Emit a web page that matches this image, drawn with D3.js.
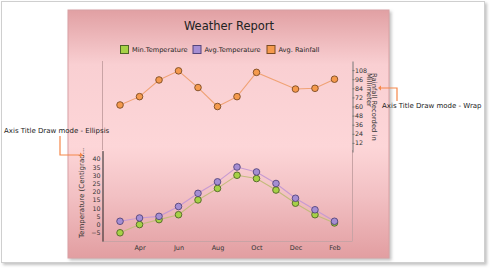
<!DOCTYPE html>
<html>
<head>
<meta charset="utf-8">
<script src="https://cdn.jsdelivr.net/npm/d3@7"></script>
<style>
  body { margin: 0; background: #fff; }
  svg text { font-family: "DejaVu Sans", Verdana, sans-serif; }
</style>
</head>
<body>
<svg id="chart" width="490" height="271"></svg>
<script>
// chart data
const months = ["Mar", "Apr", "May", "Jun", "Jul", "Aug", "Sep", "Oct", "Nov", "Dec", "Jan", "Feb"];
const minTemp = [-5, 0, 3, 6, 15, 22, 30, 28, 21, 13, 6, 1];
const avgTemp = [2, 4, 5, 11, 19, 26, 35, 32, 25, 16, 9, 2];
const avgRain = [62, 73, 95, 107, 85, 60, 73, 105, null, 83, 84, 96];
const tempTicks = [-5, 0, 5, 10, 15, 20, 25, 30, 35, 40];
const rainTicks = [12, 24, 36, 48, 60, 72, 84, 96, 108];
const xLabels = ["Apr", "Jun", "Aug", "Oct", "Dec", "Feb"];

const svg = d3.select("#chart");
const defs = svg.append("defs");

const grad = defs.append("linearGradient").attr("id", "bg").attr("x1", 0).attr("y1", 0).attr("x2", 0).attr("y2", 1);
[["0%", "#e1a0a3"], ["22%", "#f9cfd2"], ["55%", "#fdd6d8"], ["75%", "#f2c0c3"], ["100%", "#e29ea1"]]
  .forEach(s => grad.append("stop").attr("offset", s[0]).attr("stop-color", s[1]));

const shadow = defs.append("filter").attr("id", "sh").attr("x", "-5%").attr("y", "-5%").attr("width", "115%").attr("height", "115%");
shadow.append("feDropShadow").attr("dx", 2).attr("dy", 2).attr("stdDeviation", 1.5).attr("flood-color", "#999").attr("flood-opacity", 0.6);

// outer frame
svg.append("rect").attr("x", 1.5).attr("y", 1.5).attr("width", 483).attr("height", 261)
  .attr("fill", "#fff").attr("stroke", "#cfcfcf").attr("filter", "url(#sh)");

// chart panel
svg.append("rect").attr("x", 68).attr("y", 10).attr("width", 321).attr("height", 248)
  .attr("fill", "url(#bg)").attr("stroke", "#d8a0a3").attr("filter", "url(#sh)");

svg.append("text").attr("x", 229).attr("y", 30).attr("text-anchor", "middle")
  .attr("font-size", 11.5).attr("fill", "#222").text("Weather Report");

// legend
const legend = [
  { name: "Min.Temperature", fill: "#a6d146", stroke: "#4f6426", x: 120 },
  { name: "Avg.Temperature", fill: "#a58ed3", stroke: "#54457a", x: 192.5 },
  { name: "Avg. Rainfall", fill: "#f59a4d", stroke: "#7a4a22", x: 266.5 }
];
const lg = svg.append("g").selectAll("g").data(legend).enter().append("g");
lg.append("rect").attr("x", d => d.x + 0.5).attr("y", 45.5).attr("width", 8).attr("height", 8)
  .attr("fill", d => d.fill).attr("stroke", d => d.stroke);
lg.append("text").attr("x", d => d.x + 12).attr("y", 52).attr("font-size", 6.6).attr("fill", "#222").text(d => d.name);

// scales
const left = 102, right = 352.5;
const x = d3.scalePoint().domain(months).range([left, right]).padding(0.925);
const yRain = d3.scaleLinear().domain([0, 120]).range([152, 61]);
const yTemp = d3.scaleLinear().domain([-10, 45]).range([241, 150.6]);

// plot borders
const border = svg.append("g").attr("stroke", "#c9a3a5").attr("fill", "none");
border.append("line").attr("x1", left + 0.5).attr("x2", left + 0.5).attr("y1", 61).attr("y2", 150);
border.append("line").attr("x1", right).attr("x2", right).attr("y1", 150).attr("y2", 241);
border.append("line").attr("x1", left).attr("x2", right).attr("y1", 241.5).attr("y2", 241.5);

// temperature axis (left)
const axL = svg.append("g").attr("transform", `translate(${left + 0.5},0)`)
  .call(d3.axisLeft(yTemp).tickValues(tempTicks).tickSize(0).tickPadding(2));
axL.select(".domain").attr("stroke", "#222");
axL.selectAll("text").attr("font-size", 6.3).attr("fill", "#333").attr("font-family", "DejaVu Sans");

// rainfall axis (right)
const axR = svg.append("g").attr("transform", `translate(${right},0)`)
  .call(d3.axisRight(yRain).tickValues(rainTicks).tickSize(2).tickPadding(0.5).tickSizeOuter(0));
axR.select(".domain").attr("stroke", "#777");
axR.selectAll(".tick line").attr("stroke", "#777");
axR.selectAll("text").attr("font-size", 6.3).attr("fill", "#333").attr("font-family", "DejaVu Sans");

// x axis labels
const axB = svg.append("g").attr("transform", "translate(0,241)")
  .call(d3.axisBottom(x).tickValues(xLabels).tickSize(0).tickPadding(4));
axB.select(".domain").remove();
axB.selectAll("text").attr("font-size", 6.5).attr("fill", "#333").attr("font-family", "DejaVu Sans");

// axis titles
svg.append("text").attr("transform", "translate(84,238) rotate(-90)")
  .attr("font-size", 7).attr("fill", "#333").text("Temperature (Centigrad...");
const rt = svg.append("text").attr("transform", "translate(372,73) rotate(90)")
  .attr("font-size", 6.8).attr("fill", "#333");
rt.append("tspan").attr("x", 0).attr("y", 0).text("Rainfall Recorded in");
rt.append("tspan").attr("x", 0).attr("y", 5.5).text("Millimeter");

// series
const series = [
  { values: avgRain, y: yRain, line: "#f0a275", fill: "#f59a4d", stroke: "#7a4a22" },
  { values: minTemp, y: yTemp, line: "#c4bb7c", fill: "#a6d146", stroke: "#4f6426" },
  { values: avgTemp, y: yTemp, line: "#c79ad2", fill: "#a58ed3", stroke: "#54457a" }
];

series.forEach(s => {
  const pts = months.map((m, i) => ({ m, v: s.values[i] })).filter(d => d.v != null);
  const line = d3.line().x(d => x(d.m)).y(d => s.y(d.v));
  svg.append("path").datum(pts).attr("d", line)
    .attr("fill", "none").attr("stroke", s.line).attr("stroke-width", 1.1);
  svg.append("g").selectAll("circle").data(pts).enter().append("circle")
    .attr("cx", d => x(d.m)).attr("cy", d => s.y(d.v)).attr("r", 3.3)
    .attr("fill", s.fill).attr("stroke", s.stroke).attr("stroke-width", 0.9);
});

// annotations
const ann = svg.append("g");
ann.append("text").attr("x", 4).attr("y", 133).attr("font-size", 7).attr("fill", "#222")
  .text("Axis Title Draw mode - Ellipsis");
ann.append("path").attr("d", "M60,136 V155 H80").attr("fill", "none").attr("stroke", "#f5874a").attr("stroke-width", 1.2);
ann.append("path").attr("d", "M80,152.5 L83,155 L80,157.5Z").attr("fill", "#f5874a");
ann.append("text").attr("x", 382).attr("y", 108).attr("font-size", 7).attr("fill", "#222")
  .text("Axis Title Draw mode - Wrap");
ann.append("path").attr("d", "M397,101 V88 H381").attr("fill", "none").attr("stroke", "#f5874a").attr("stroke-width", 1.2);
ann.append("path").attr("d", "M381,85.5 L378,88 L381,90.5Z").attr("fill", "#f5874a");
</script>
</body>
</html>
